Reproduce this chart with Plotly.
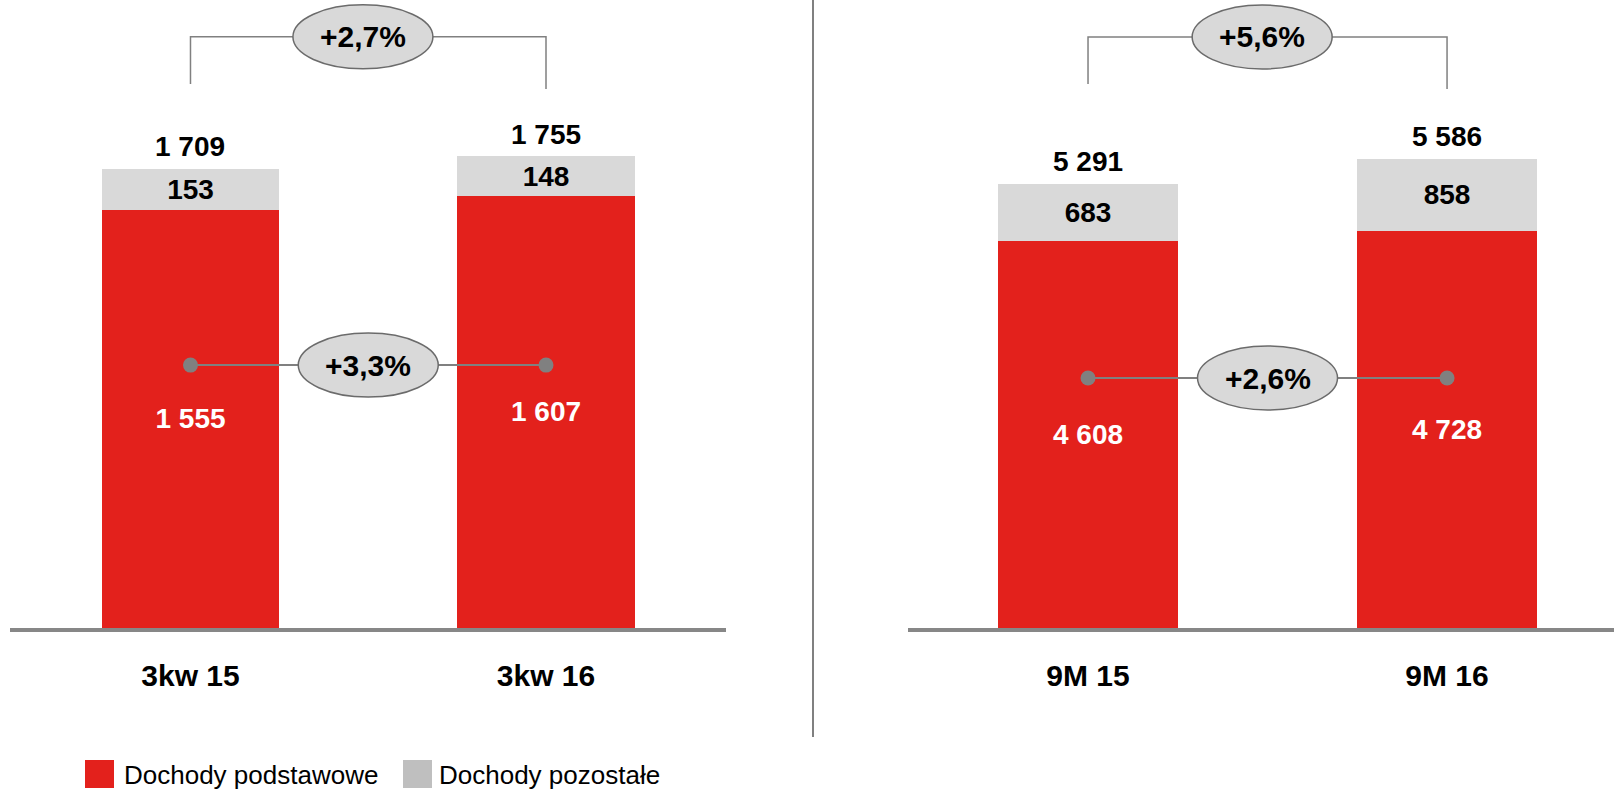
import plotly.graph_objects as go

# ---- data -------------------------------------------------------------
quarter_labels = ["3kw 15", "3kw 16"]
quarter_core = [1555, 1607]          # Dochody podstawowe
quarter_other = [153, 148]           # Dochody pozostałe
quarter_total = [1709, 1755]

ytd_labels = ["9M 15", "9M 16"]
ytd_core = [4608, 4728]
ytd_other = [683, 858]
ytd_total = [5291, 5586]

legend_names = ["Dochody podstawowe", "Dochody pozostałe"]

# ---- styling ----------------------------------------------------------
RED = "#E3211C"
GREY = "#D9D9D9"
LEGEND_GREY = "#BFBFBF"
LINE_GREY = "#808080"
AXIS_GREY = "#878787"
FONT = "Liberation Sans, Arial, sans-serif"

W, H = 1614, 790


def px_x(p):
    return p / W


def px_y(p):
    return 1 - p / H


def fmt(v):
    return f"{v:,}".replace(",", " ")


def pct(a, b):
    return "+" + f"{(b / a - 1) * 100:.1f}".replace(".", ",") + "%"


fig = go.Figure()

panels = [
    dict(xa="x", ya="y", cats=quarter_labels, core=quarter_core, other=quarter_other,
         total=quarter_total, bracket_top=2199, bracket_low=[2024, 2005], link=978),
    dict(xa="x2", ya="y2", cats=ytd_labels, core=ytd_core, other=ytd_other,
         total=ytd_total, bracket_top=7036, bracket_low=[6476, 6417], link=2976),
]

shapes = []
annotations = []

for p in panels:
    xa, ya, cats = p["xa"], p["ya"], p["cats"]
    # stacked bars
    fig.add_trace(go.Bar(
        x=cats, y=p["core"], xaxis=xa, yaxis=ya, width=0.5,
        marker=dict(color=RED, line=dict(width=0)),
        texttemplate="%{y:,.0f}", textposition="inside", insidetextanchor="middle",
        constraintext="none", textangle=0,
        textfont=dict(family=FONT, size=28, color="white", weight="bold"),
        name=legend_names[0], showlegend=False, hoverinfo="skip",
    ))
    fig.add_trace(go.Bar(
        x=cats, y=p["other"], xaxis=xa, yaxis=ya, width=0.5,
        marker=dict(color=GREY, line=dict(width=0)),
        texttemplate="%{y:,.0f}", textposition="inside", insidetextanchor="middle",
        constraintext="none", textangle=0,
        textfont=dict(family=FONT, size=28, color="black", weight="bold"),
        name=legend_names[1], showlegend=False, hoverinfo="skip",
    ))
    # totals above the bars
    for c, t in zip(cats, p["total"]):
        annotations.append(dict(
            x=c, y=t, xref=xa, yref=ya, text=fmt(t), showarrow=False,
            yanchor="middle", yshift=22,
            font=dict(family=FONT, size=28, color="black", weight="bold"),
        ))
    # growth bracket over the totals
    fig.add_trace(go.Scatter(
        x=[cats[0], cats[0], cats[1], cats[1]],
        y=[p["bracket_low"][0], p["bracket_top"], p["bracket_top"], p["bracket_low"][1]],
        xaxis=xa, yaxis=ya, mode="lines",
        line=dict(color=LINE_GREY, width=1.5), showlegend=False, hoverinfo="skip",
    ))
    # connector between core-income bars
    fig.add_trace(go.Scatter(
        x=cats, y=[p["link"], p["link"]], xaxis=xa, yaxis=ya, mode="lines+markers",
        line=dict(color=LINE_GREY, width=2),
        marker=dict(color=LINE_GREY, size=15),
        showlegend=False, hoverinfo="skip",
    ))
    # growth ellipses with percentage text
    for xc, yc, label in [
        (0.485, p["bracket_top"], pct(p["total"][0], p["total"][1])),
        (0.5, p["link"], pct(p["core"][0], p["core"][1])),
    ]:
        shapes.append(dict(
            type="circle", xref=xa, yref=ya, xsizemode="pixel", ysizemode="pixel",
            xanchor=xc, yanchor=yc, x0=-70, x1=70, y0=-32, y1=32,
            fillcolor=GREY, line=dict(color="#6B6B6B", width=1.5), layer="above",
        ))
        annotations.append(dict(
            x=xc, y=yc, xref=xa, yref=ya, text=label, showarrow=False,
            yanchor="middle", xanchor="center",
            font=dict(family=FONT, size=30, color="black", weight="bold"),
        ))

# vertical divider between the panels
shapes.append(dict(
    type="line", xref="paper", yref="paper",
    x0=px_x(813), x1=px_x(813), y0=px_y(0), y1=px_y(737),
    line=dict(color=LINE_GREY, width=2),
))

# legend
legend_items = [(85, RED, legend_names[0], 122), (403, LEGEND_GREY, legend_names[1], 437)]
for left, col, name, tx in legend_items:
    shapes.append(dict(
        type="rect", xref="paper", yref="paper",
        x0=px_x(left), x1=px_x(left + 29), y0=px_y(788), y1=px_y(760),
        fillcolor=col, line=dict(width=0),
    ))
    annotations.append(dict(
        x=px_x(tx), y=px_y(775), xref="paper", yref="paper", text=name,
        showarrow=False, xanchor="left", yanchor="middle",
        font=dict(family=FONT, size=26, color="black"),
    ))

baseline = 628
y_dom = [1 - baseline / H, 1]
axis_common = dict(
    showline=True, linecolor=AXIS_GREY, linewidth=4, ticks="", showgrid=False,
    zeroline=False, tickfont=dict(family=FONT, size=30, color="black", weight="bold"),
    ticklabelstandoff=18, fixedrange=True,
)
fig.update_layout(
    width=W, height=H, autosize=False,
    margin=dict(l=0, r=0, t=0, b=0),
    paper_bgcolor="white", plot_bgcolor="white",
    barmode="stack", separators=", ",
    showlegend=False,
    xaxis=dict(domain=[px_x(10), px_x(726)], range=[-0.5077, 1.5063], anchor="y",
               type="category", **axis_common),
    xaxis2=dict(domain=[px_x(908), 1], range=[-0.5014, 1.465], anchor="y2",
                type="category", **axis_common),
    yaxis=dict(domain=y_dom, range=[0, 2336], visible=False, fixedrange=True, anchor="x"),
    yaxis2=dict(domain=y_dom, range=[0, 7476], visible=False, fixedrange=True, anchor="x2"),
    shapes=shapes, annotations=annotations,
)

fig.write_html("out.html")
